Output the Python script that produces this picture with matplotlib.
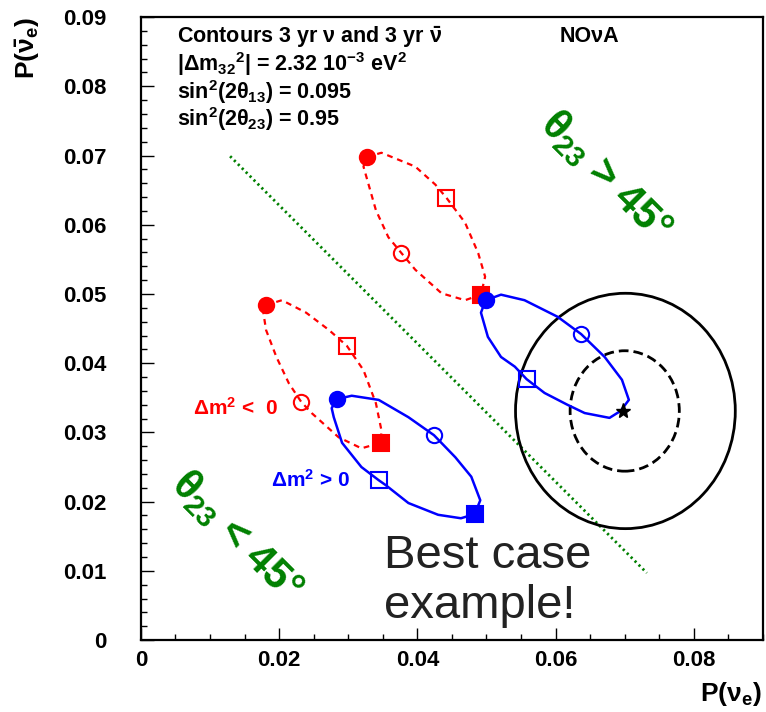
import numpy as np
import matplotlib
matplotlib.use('Agg')
from matplotlib import pyplot as plt
from matplotlib.patches import Ellipse
from matplotlib.ticker import MultipleLocator, FormatStrFormatter

plt.rcParams['font.family'] = ['Liberation Sans', 'DejaVu Sans']
plt.rcParams['font.weight'] = 'bold'
plt.rcParams['mathtext.fontset'] = 'custom'
plt.rcParams['mathtext.rm'] = 'Liberation Sans:bold'
plt.rcParams['mathtext.it'] = 'Liberation Sans:bold'
plt.rcParams['mathtext.bf'] = 'Liberation Sans:bold'
plt.rcParams['mathtext.sf'] = 'Liberation Sans:bold'

# bi-probability contours, P(nu_e) vs P(nubar_e)
# inverted hierarchy, theta23 > 45 deg
red_hi_x = [0.0327, 0.0348, 0.0397, 0.0426, 0.0442, 0.0469, 0.0488, 0.0498, 0.0492,
            0.0469, 0.0435, 0.0397, 0.0377, 0.0358, 0.0340, 0.0322]
red_hi_y = [0.0698, 0.0704, 0.0684, 0.0658, 0.0639, 0.0603, 0.0559, 0.0525, 0.0499,
            0.0491, 0.0501, 0.0535, 0.0559, 0.0582, 0.0621, 0.0684]
red_hi_marks = [0, 4, 8, 12]  # filled circle, open square, filled square, open circle

# inverted hierarchy, theta23 < 45 deg
red_lo_x = [0.0181, 0.0204, 0.0239, 0.0272, 0.0298, 0.0322, 0.0340, 0.0348, 0.0347,
            0.0319, 0.0286, 0.0247, 0.0232, 0.0214, 0.0196, 0.0181, 0.0177]
red_lo_y = [0.0484, 0.0491, 0.0473, 0.0448, 0.0425, 0.0390, 0.0342, 0.0303, 0.0285,
            0.0277, 0.0293, 0.0328, 0.0344, 0.0371, 0.0409, 0.0448, 0.0474]
red_lo_marks = [0, 4, 8, 12]

# normal hierarchy, theta23 > 45 deg
blue_hi_x = [0.0499, 0.0521, 0.0555, 0.0603, 0.0637, 0.0671, 0.0696, 0.0706, 0.0694,
             0.0678, 0.0642, 0.0617, 0.0584, 0.0558, 0.0541, 0.0521, 0.0502, 0.0492, 0.0495]
blue_hi_y = [0.0491, 0.0499, 0.0491, 0.0467, 0.0442, 0.0409, 0.0376, 0.0347, 0.0331,
             0.0321, 0.0328, 0.0340, 0.0357, 0.0377, 0.0395, 0.0409, 0.0438, 0.0473, 0.0481]
blue_hi_marks = [0, 4, None, 13]  # filled circle, open circle, (filled square), open square

# normal hierarchy, theta23 < 45 deg
blue_lo_x = [0.0283, 0.0305, 0.0344, 0.0387, 0.0424, 0.0455, 0.0478, 0.0491, 0.0483,
             0.0463, 0.0430, 0.0387, 0.0354, 0.0344, 0.0319, 0.0291, 0.0279, 0.0276]
blue_lo_y = [0.0348, 0.0353, 0.0347, 0.0322, 0.0296, 0.0264, 0.0236, 0.0202, 0.0182,
             0.0176, 0.0181, 0.0198, 0.0224, 0.0231, 0.0250, 0.0285, 0.0322, 0.0335]
blue_lo_marks = [0, 4, 8, 13]

# measured point and 1/2 sigma contours
best_x, best_y = 0.0698, 0.0331
sig1_w, sig1_h = 2 * 0.0079, 2 * 0.0087
sig2_w, sig2_h = 2 * 0.0159, 2 * 0.0170

# theta23 = 45 deg boundary
split_x = [0.0129, 0.0732]
split_y = [0.0699, 0.0097]

fig = plt.figure(figsize=(7.66, 7.12), dpi=100)
ax = fig.add_axes([0.184, 0.101, 0.812, 0.875])


def draw_contour(xs, ys, marks, color, ls, markers):
    xc = list(xs) + [xs[0]]
    yc = list(ys) + [ys[0]]
    ax.plot(xc, yc, color=color, lw=1.8 if ls == '-' else 1.6,
            linestyle=ls, zorder=3)
    for idx, (m, filled) in zip(marks, markers):
        if idx is None:
            continue
        ax.plot(xs[idx], ys[idx], marker=m, ms=11, color=color,
                mfc=color if filled else 'none', mew=1.5, zorder=4)


red_dash = (0, (2.6, 2.2))
draw_contour(red_hi_x, red_hi_y, red_hi_marks, 'red', red_dash,
             [('o', True), ('s', False), ('s', True), ('o', False)])
draw_contour(red_lo_x, red_lo_y, red_lo_marks, 'red', red_dash,
             [('o', True), ('s', False), ('s', True), ('o', False)])
draw_contour(blue_hi_x, blue_hi_y, blue_hi_marks, 'blue', '-',
             [('o', True), ('o', False), ('s', True), ('s', False)])
draw_contour(blue_lo_x, blue_lo_y, blue_lo_marks, 'blue', '-',
             [('o', True), ('o', False), ('s', True), ('s', False)])

ax.plot(split_x, split_y, color='#008000', lw=2.0, linestyle=(0, (0.8, 1.2)), zorder=2)

ax.add_patch(Ellipse((best_x + 0.0003, best_y), sig2_w, sig2_h, fill=False,
                     ec='black', lw=2.0, zorder=2))
ax.add_patch(Ellipse((best_x + 0.0002, best_y), sig1_w, sig1_h, fill=False,
                     ec='black', lw=2.0, ls=(0, (3.5, 1.8)), zorder=2))
ax.plot(best_x, best_y, marker='*', ms=11, color='black', zorder=5)

ax.set_xlim(0, 0.09)
ax.set_ylim(0, 0.09)
ax.xaxis.set_major_locator(MultipleLocator(0.02))
ax.xaxis.set_minor_locator(MultipleLocator(0.005))
ax.yaxis.set_major_locator(MultipleLocator(0.01))
ax.yaxis.set_minor_locator(MultipleLocator(0.002))
ax.xaxis.set_major_formatter(FormatStrFormatter('%g'))
ax.yaxis.set_major_formatter(FormatStrFormatter('%g'))
ax.tick_params(which='both', direction='in', top=False, right=False,
               labelsize=16, width=1.0)
ax.tick_params(axis='x', which='major', length=8.5, pad=7)
ax.tick_params(axis='x', which='minor', length=4.5)
ax.tick_params(axis='y', which='major', length=9, pad=24.5)
ax.tick_params(axis='y', which='minor', length=4.5)
for sp in ax.spines.values():
    sp.set_linewidth(1.6)

fig.text(28 / 766, 1 - 17 / 712, r'P($\bar{\nu}_{e}$)', rotation=90,
         ha='center', va='top', fontsize=19)
fig.text(762 / 766, 4 / 712, r'P($\nu_{e}$)', ha='right', va='bottom', fontsize=19)

# info block
info = [r'Contours 3 yr $\nu$ and 3 yr $\bar{\nu}$',
        r'|$\Delta$m$_{32}{}^{2}$| = 2.32 10$^{-3}$ eV$^{2}$',
        r'sin$^{2}$(2$\theta_{13}$) = 0.095',
        r'sin$^{2}$(2$\theta_{23}$) = 0.95']
for i, line in enumerate(info):
    fig.text(177 / 766, 1 - (37 + i * 27.5) / 712, line, ha='left', va='center',
             fontsize=15.5)
fig.text(589 / 766, 1 - 37 / 712, 'NO\u03bdA', ha='center', va='center', fontsize=15.5)

ax.text(0.0672, 0.0670, r'$\theta_{23}$ > 45°', color='#008000', fontsize=30,
        rotation=-45, rotation_mode='anchor', ha='center', va='center')
ax.text(0.0139, 0.0150, r'$\theta_{23}$ < 45°', color='#008000', fontsize=30,
        rotation=-45, rotation_mode='anchor', ha='center', va='center')

ax.text(0.0136, 0.0335, r'$\Delta$m$^{2}$ <  0', color='red', fontsize=15,
        ha='center', va='center')
ax.text(0.0246, 0.0231, r'$\Delta$m$^{2}$ > 0', color='blue', fontsize=15,
        ha='center', va='center')

ax.text(0.0352, 0.0032, 'Best case\nexample!', color='#222222', fontsize=34,
        fontweight='normal', ha='left', va='baseline', linespacing=1.17)

fig.savefig('out.png', dpi=100)
